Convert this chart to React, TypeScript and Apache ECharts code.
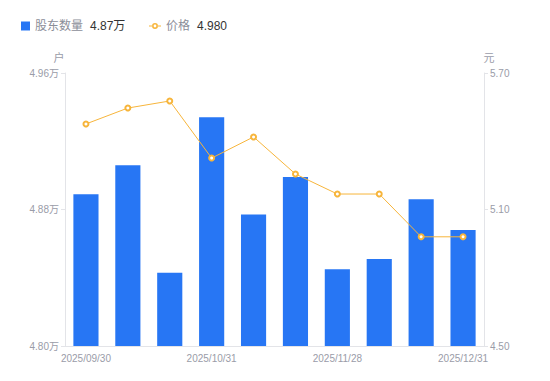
import React, { useEffect, useRef } from "react";
import * as echarts from "echarts";

const categories = [
  "2025/09/30",
  "2025/10/10",
  "2025/10/20",
  "2025/10/31",
  "2025/11/10",
  "2025/11/20",
  "2025/11/28",
  "2025/12/10",
  "2025/12/19",
  "2025/12/31",
];
// 股东数量 (万户)
const holders = [4.889, 4.906, 4.843, 4.934, 4.877, 4.899, 4.845, 4.851, 4.886, 4.868];
// 价格 (元)
const prices = [5.476, 5.546, 5.577, 5.326, 5.419, 5.256, 5.168, 5.168, 4.98, 4.98];

const holdersLatest = "4.87万";
const priceLatest = "4.980";

const lineIcon =
  "path://M0,2.5L3.2,2.5L3.2,3.5L0,3.5Z M8.8,2.5L12,2.5L12,3.5L8.8,3.5Z " +
  "M3,3A3,3 0 1,0 9,3A3,3 0 1,0 3,3Z M4.6,3A1.4,1.4 0 1,1 7.4,3A1.4,1.4 0 1,1 4.6,3Z";

export default function App() {
  const ref = useRef<HTMLDivElement>(null);
  useEffect(() => {
    if (!ref.current) return;
    const chart = echarts.init(ref.current, null, { renderer: "svg" });
    const gray = "#9a9ca8";
    const axisLineColor = "#e3e4e8";
    const legendText = {
      rich: {
        n: { color: "#8b8e99", fontSize: 12, padding: [0, 7, 0, 0] },
        v: { color: "#333333", fontSize: 12 },
      },
    };
    chart.setOption({
      animation: false,
      textStyle: { fontFamily: "'Liberation Sans', Arial, 'Noto Sans CJK SC', sans-serif" },
      legend: [
        {
          left: 16,
          top: 15,
          itemWidth: 9,
          itemHeight: 9,
          data: [{ name: "股东数量", icon: "rect", itemStyle: { color: "#2776f4" } }],
          formatter: (name: string) => `{n|${name}}{v|${holdersLatest}}`,
          textStyle: legendText,
        },
        {
          left: 144,
          top: 15,
          itemWidth: 12,
          itemHeight: 6,
          data: [{ name: "价格", icon: lineIcon, itemStyle: { color: "#f7b53b", borderWidth: 0 } }],
          formatter: (name: string) => `{n|${name}}{v|${priceLatest}}`,
          textStyle: legendText,
        },
      ],
      grid: { left: 65, right: 66, top: 73, bottom: 35 },
      xAxis: {
        type: "category",
        data: categories,
        axisLine: { lineStyle: { color: axisLineColor } },
        axisTick: { show: false },
        axisLabel: {
          color: gray,
          fontSize: 10,
          interval: 2,
          margin: 7,
        },
      },
      yAxis: [
        {
          type: "value",
          name: "户",
          min: 4.8,
          max: 4.96,
          interval: 0.08,
          position: "left",
          nameGap: 10,
          nameTextStyle: { color: gray, fontSize: 11, padding: [0, 12, 0, 0] },
          axisLine: { show: true, lineStyle: { color: axisLineColor } },
          axisTick: { show: true, length: 4, lineStyle: { color: axisLineColor } },
          splitLine: { show: false },
          axisLabel: {
            color: gray,
            fontSize: 10,
            margin: 6,
            formatter: (v: number) => v.toFixed(2) + "万",
          },
        },
        {
          type: "value",
          name: "元",
          min: 4.5,
          max: 5.7,
          interval: 0.6,
          position: "right",
          nameGap: 10,
          nameTextStyle: { color: gray, fontSize: 11, padding: [0, 0, 0, 10] },
          axisLine: { show: true, lineStyle: { color: axisLineColor } },
          axisTick: { show: true, length: 4, lineStyle: { color: axisLineColor } },
          splitLine: { show: false },
          axisLabel: {
            color: gray,
            fontSize: 10,
            margin: 6,
            formatter: (v: number) => v.toFixed(2),
          },
        },
      ],
      series: [
        {
          name: "股东数量",
          type: "bar",
          yAxisIndex: 0,
          data: holders,
          barWidth: "60%",
          itemStyle: { color: "#2776f4" },
        },
        {
          name: "价格",
          type: "line",
          yAxisIndex: 1,
          data: prices,
          symbol: "emptyCircle",
          symbolSize: 5,
          lineStyle: { color: "#f7b53b", width: 1 },
          itemStyle: { color: "#f7b53b", borderWidth: 1.5 },
        },
      ],
    });
    return () => chart.dispose();
  }, []);
  return <div ref={ref} style={{ width: 550, height: 381, margin: -8 }} />;
}
